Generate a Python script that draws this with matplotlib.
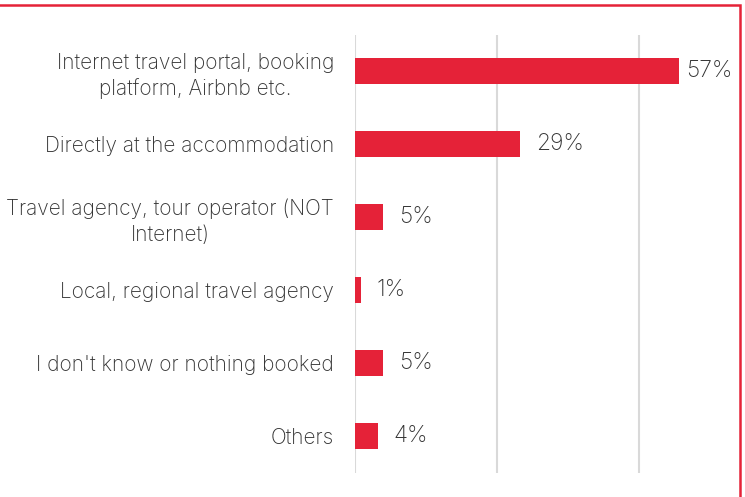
import matplotlib.pyplot as plt
from matplotlib.patches import Rectangle

categories = [
    "Internet travel portal, booking\nplatform, Airbnb etc.",
    "Directly at the accommodation",
    "Travel agency, tour operator (NOT\nInternet)",
    "Local, regional travel agency",
    "I don't know or nothing booked",
    "Others",
]
values = [57, 29, 5, 1, 5, 4]
grid_ticks = [0, 25, 50]

red = "#e52238"
text_col = "#333333"

plt.rcParams["font.family"] = ["Inter", "DejaVu Sans"]

fig = plt.figure(figsize=(7.45, 4.97), dpi=100)
ax = fig.add_axes([355 / 745, 1 - 472.5 / 497, (739 - 355) / 745, 438 / 497])

y = range(len(categories))
ax.barh(y, values, height=0.36, color=red, zorder=3)
ax.set_ylim(len(categories) - 0.5, -0.5)
ax.set_xlim(0, 384 / 5.68)

ax.set_xticks(grid_ticks)
ax.set_xticklabels([])
ax.tick_params(axis="both", length=0)
ax.grid(axis="x", color="#d9d9d9", linewidth=1.5, zorder=0)
ax.grid(axis="y", visible=False)
for s in ax.spines.values():
    s.set_visible(False)

ax.set_yticks(list(y))
ax.set_yticklabels(categories, fontsize=15, color=text_col, fontweight="light",
                   multialignment="center", linespacing=1.35)
ax.tick_params(axis="y", pad=15)

for i, v in enumerate(values):
    off = 7 if v > 50 else 16
    ax.annotate(f"{v}%", (v, i), xytext=(off * 0.72, 0), textcoords="offset points",
                va="center", ha="left", fontsize=16.5, color=text_col,
                fontweight="light")

# red frame around the chart
fig.patches.append(Rectangle((-0.02, -0.02), 740 / 745 + 0.02, 1 - 5 / 497 + 0.02,
                             transform=fig.transFigure, fill=False,
                             edgecolor=red, linewidth=1.8, zorder=10))

fig.savefig("out.png", dpi=100)
